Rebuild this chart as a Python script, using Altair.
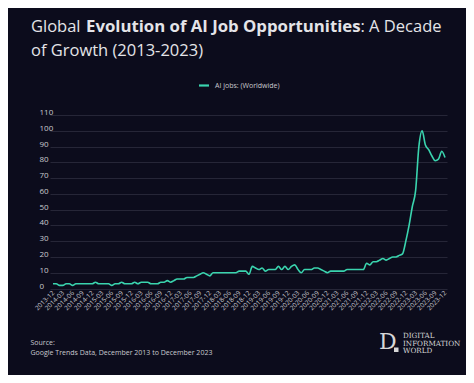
import altair as alt
import pandas as pd

# ---- data -------------------------------------------------------------
month_index = list(range(121))  # 0 = 2013-12 ... 120 = 2023-12
ai_jobs = [
    3, 3, 2, 2, 3, 3, 2, 3, 3, 3,
    3, 3, 3, 4, 3, 3, 3, 3, 2, 3,
    3, 4, 3, 3, 3, 4, 3, 4, 4, 4,
    3, 3, 3, 4, 4, 5, 4, 5, 6, 6,
    6, 7, 7, 7, 8, 9, 10, 9, 8, 10,
    10, 10, 10, 10, 10, 10, 10, 11, 11, 11,
    9, 14, 13, 12, 13, 11, 12, 12, 12, 14,
    12, 14, 12, 14, 15, 12, 10, 12, 12, 12,
    13, 13, 12, 11, 10, 11, 11, 11, 11, 11,
    12, 12, 12, 12, 12, 12, 16, 15, 17, 17,
    18, 19, 18, 19, 20, 20, 21, 22, 30, 40,
    52, 62, 90, 100, 91, 88, 84, 81, 82, 87, 83,
]
x_tick_values = list(range(0, 121, 3))
y_tick_values = list(range(0, 111, 10))
series_name = "AI jobs: (Worldwide)"

df = pd.DataFrame({"m": month_index, "v": ai_jobs})

BG = "#0c0c1c"
LINE = "#3ad4ae"
GRID = "#262637"
TXT = "#c9c9cf"
TITLE_C = "#e4e4e8"
FONT = "Open Sans"

W, H = 397, 173.5

one = pd.DataFrame({"k": [0]})


def txt(s, x, y, size, weight="normal", color=TXT, font=FONT, baseline="alphabetic", align="left"):
    return alt.Chart(one).mark_text(
        text=s, fontSize=size, fontWeight=weight, color=color, font=font,
        baseline=baseline, align=align,
    ).encode(x=alt.value(x), y=alt.value(y))


month_label = (
    "toString(2013 + floor((datum.value + 11) / 12)) + '-' + "
    "((((datum.value + 11) % 12) + 1) < 10 ? '0' : '') + toString(((datum.value + 11) % 12) + 1)"
)

line = alt.Chart(df).mark_line(color=LINE, strokeWidth=1.6, interpolate="monotone").encode(
    x=alt.X(
        "m:Q",
        scale=alt.Scale(domain=[-0.92, 120.61], nice=False, zero=False),
        axis=alt.Axis(
            values=x_tick_values, labelExpr=month_label, labelAngle=-45,
            labelAlign="right", labelBaseline="middle", labelPadding=3,
            labelFontSize=6.5, labelColor=TXT, labelFont=FONT,
            labelOverlap=False, labelFlush=False,
            ticks=False, domain=False, grid=False, title=None,
        ),
    ),
    y=alt.Y(
        "v:Q",
        scale=alt.Scale(domain=[0, 110], nice=False),
        axis=alt.Axis(
            values=y_tick_values, labelAlign="left", labelPadding=11,
            labelBaseline="alphabetic", labelOffset=-0.5,
            labelFontSize=8, labelColor=TXT, labelFont=FONT,
            labelOverlap=False,
            ticks=False, domain=False, grid=True, gridColor=GRID, gridWidth=1,
            title=None,
        ),
    ),
)

legend_sym = alt.Chart(one).mark_rule(color=LINE, strokeWidth=2.2).encode(
    x=alt.value(149), x2=alt.value(159), y=alt.value(-29.5)
)
legend_txt = txt(series_name, 165, -29.5, 7, baseline="middle")

title_parts = [
    txt("Global", -19, -83, 16.5, color=TITLE_C),
    txt("Evolution of AI Job Opportunities", 36, -83, 16.75, weight="bold", color=TITLE_C),
    txt(": A Decade", 310.5, -83, 16.5, color=TITLE_C),
    txt("of Growth (2013-2023)", -19, -59.5, 16.5, color=TITLE_C),
]

source = [
    txt("Source:", -19.5, 227.7, 7, baseline="middle"),
    txt("Google Trends Data, December 2013 to December 2023", -19.5, 237.7, 7, baseline="middle"),
]

logo = [
    txt("D", 329, 233.5, 22, font="DejaVu Serif", color="#d6d6d6"),
    alt.Chart(one).mark_rect(color="#d6d6d6").encode(
        x=alt.value(344), x2=alt.value(348.5), y=alt.value(232.5), y2=alt.value(237)
    ),
    txt("DIGITAL", 353, 220.7, 7.2, font="DejaVu Serif", color="#d6d6d6", baseline="middle"),
    txt("INFORMATION", 353, 228.7, 7.2, font="DejaVu Serif", color="#d6d6d6", baseline="middle"),
    txt("WORLD", 353, 236.3, 7.2, font="DejaVu Serif", color="#d6d6d6", baseline="middle"),
]

chart = alt.layer(
    line, legend_sym, legend_txt, *title_parts, *source, *logo
).properties(
    width=W, height=H,
    autosize=alt.AutoSizeParams(type="none"),
    padding={"left": 42, "top": 107, "right": 19, "bottom": 86},
    background=BG,
).configure_view(stroke=None)

chart.save("out.html", embed_options={"renderer": "svg", "actions": False})
